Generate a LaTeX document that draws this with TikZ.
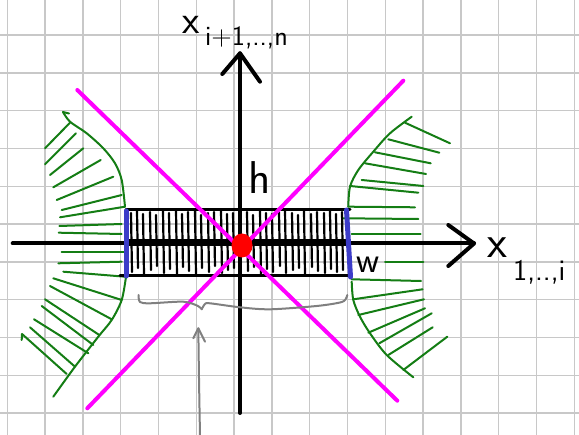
\documentclass[tikz,border=0pt]{standalone}
\definecolor{gridc}{RGB}{200,200,200}
\definecolor{hgreen}{RGB}{20,125,20}
\definecolor{hmag}{RGB}{255,0,255}
\definecolor{hblue}{RGB}{60,60,200}
\definecolor{hred}{RGB}{255,0,0}
\definecolor{hgray}{RGB}{128,128,128}
\tikzset{
  gridline/.style={gridc,line width=1.5pt},
  greenpen/.style={hgreen,line width=2pt,line cap=round},
  blackpen/.style={black,line width=2.2pt,line cap=round},
  axispen/.style={black,line width=4pt,line cap=round,line join=round},
  magpen/.style={hmag,line width=4pt,line cap=round},
  bluepen/.style={hblue,line width=5pt,line cap=round},
  graypen/.style={hgray,line width=2pt,line cap=round,line join=round},
  hand/.style={inner sep=0pt,font=\sffamily}
}
\begin{document}
\begin{tikzpicture}[x=1pt,y=-1pt]
\useasboundingbox (0,0) rectangle (579,435);
% grid
\foreach \k in {0,...,15} \draw[gridline] ({7.3+37.8*\k},0) -- ({7.3+37.8*\k},435);
\foreach \k in {1,...,11} \draw[gridline] (0,{-2.7+37.8*\k}) -- (579,{-2.7+37.8*\k});

% green hatched boundaries, left
\draw[greenpen] plot[smooth] coordinates {(63,112)(70,121.7)(86.7,133.3)(103.3,148.3)(115,163.3)(121.7,180)(125,206.7)};
\draw[greenpen] (63,112) -- (69,113.5);
\draw[greenpen] plot[smooth] coordinates {(126,276.7)(121.7,300)(111.7,320)(98.3,336.7)(75,366.7)(53.3,396.7)};
\foreach \a/\b/\c/\d in {45/148.3/70/122.7, 45/164.3/76/133.3, 50/175/83.3/148.3, 53.3/187.3/100.7/160,
  56.7/200/113.3/176.7, 61.7/210/121.7/195, 60/217.3/125/206.7, 59.3/226/121.7/224, 58.7/232.7/121.7/234,
  61.7/252.3/125/252.3, 58.3/263.3/121.7/261.7, 63.3/271.7/125/276.7, 53.3/278.3/121.7/300,
  50/286/111.7/319.3, 45/299.3/99.3/335, 41.7/306/93.3/345, 34/319.3/88.3/353.3, 30/327.3/75/366.7,
  22/334/66.7/374}
  \draw[greenpen] (\a,\b) -- (\c,\d);
\draw[greenpen] (22,334) -- (21.7,340);
% green hatched boundaries, right
\draw[greenpen] plot[smooth] coordinates {(411.7,116.7)(390,133.3)(373.3,151.7)(358.3,170)(350,186.7)(348.3,206.7)};
\draw[greenpen] plot[smooth] coordinates {(351.7,281.7)(353.3,300)(360,316.7)(370,333.3)(386.7,355)(413.3,377.3)};
\foreach \a/\b/\c/\d in {405/122.7/450/143.3, 388.3/139.3/439.3/152.7, 375/152.3/430.7/163.3, 365/163.3/426/174,
  361.7/180/423.3/186, 350/186/418.3/192.7, 348.3/206.7/415/207.3, 343/218.3/418.3/219, 351.7/234/420.7/234,
  385/261.7/423.3/261.7, 351.7/279.3/421/281, 353.3/299.3/422.7/289.3, 358.3/315/424/299.3,
  368.3/332.7/425/308.3, 379.3/343.3/431.7/313.3, 388.3/355/432.7/327.3, 403.3/370/447.3/336.7}
  \draw[greenpen] (\a,\b) -- (\c,\d);

% black hatched rectangle
\foreach \x/\t/\b in {131/213/272, 137/211/268, 143/214/274, 150/212/270, 156/215/266, 163/211/273,
  169/213/269, 176/210/275, 182/214/267, 188/212/271, 195/211/274, 201/215/268, 208/213/272,
  214/212/266, 221/210/273, 227/214/270, 233/213/268, 247/212/271, 253/215/267, 260/211/274,
  266/213/269, 272/214/272, 279/212/266, 285/210/273, 292/213/270, 298/215/268, 304/211/274,
  311/214/267, 317/212/271, 324/213/273, 330/211/269, 336/214/272, 342/212/270}
  \draw[blackpen] (\x,\t) -- ({\x+1},\b);
\coordinate (rtl) at (126,209.5);
\coordinate (rtr) at (350,209.5);
\coordinate (rbl) at (120,276);
\coordinate (rbr) at (350,276);
\draw[blackpen,line width=3pt] (rtl) -- (rtr);
\draw[blackpen,line width=3pt] (rbl) -- (rbr);
\coordinate (bandl) at (126,243);
\coordinate (bandr) at (350,243);
\draw[black,line width=7pt] (bandl) -- (bandr);

% axes
\coordinate (xl) at (12.7,243.5);
\coordinate (xr) at (474,243.5);
\coordinate (yb) at (240,413);
\coordinate (yt) at (240,53.3);
\draw[axispen] (xl) -- (xr);
\draw[axispen] (yb) -- (yt);
\coordinate (xa1) at (448.3,225);
\coordinate (xa2) at (448.3,266);
\draw[axispen] (xa1) -- (xr) -- (xa2);
\coordinate (ya1) at (222.3,74);
\coordinate (ya2) at (260,81.7);
\draw[axispen] (ya1) -- (yt) -- (ya2);

% magenta lines
\coordinate (m1a) at (77.3,90);
\coordinate (m1b) at (397.3,400.7);
\coordinate (m2a) at (87.3,408.3);
\coordinate (m2b) at (403.3,80.7);
\draw[magpen] (m1a) -- (m1b);
\draw[magpen] (m2a) -- (m2b);

% blue bars
\coordinate (bl1) at (126,211);
\coordinate (bl2) at (126,276);
\coordinate (br1) at (346.5,210);
\coordinate (br2) at (350.5,277);
\draw[bluepen] (bl1) -- (bl2);
\draw[bluepen] (br1) -- (br2);

% red dot
\fill[hred] (242,245.5) ellipse [x radius=10.5pt, y radius=12pt];

% brace and arrow
\draw[graypen] plot[smooth] coordinates {(138.5,295)(140,302)(150,303.3)(183.3,301.7)(198,306)(201.7,309.3)};
\draw[graypen] plot[smooth] coordinates {(201.7,309.3)(205,304)(210,303.3)(240,307.3)(270,309.3)(316.7,306)(340,302.5)(345.5,299.5)(347.3,295)};
\coordinate (gab) at (200,436);
\coordinate (gat) at (198.3,328.3);
\draw[graypen] (gab) .. controls (199,380) .. (gat);
\coordinate (ga1) at (193.3,338.3);
\coordinate (ga2) at (205,341.7);
\draw[graypen] (ga1) -- (gat) -- (ga2);

% labels
\node[hand,font=\sffamily\fontsize{46}{46}\selectfont] (lh) at (260,178) {h};
\node[hand,font=\sffamily\fontsize{36}{36}\selectfont] (lw) at (368,265) {w};
\node[hand,font=\sffamily\fontsize{46}{46}\selectfont] (lx1) at (497,248) {x};
\node[hand,font=\sffamily\fontsize{30}{30}\selectfont,anchor=west] (lx1s) at (513,272) {1,..,i};
\node[hand,font=\sffamily\fontsize{40}{40}\selectfont,anchor=base] (lx2) at (191.5,34) {x};
\node[hand,font=\sffamily\fontsize{28}{28}\selectfont,anchor=west] (lx2s) at (205,38) {i+1,..,n};
\end{tikzpicture}
\end{document}
